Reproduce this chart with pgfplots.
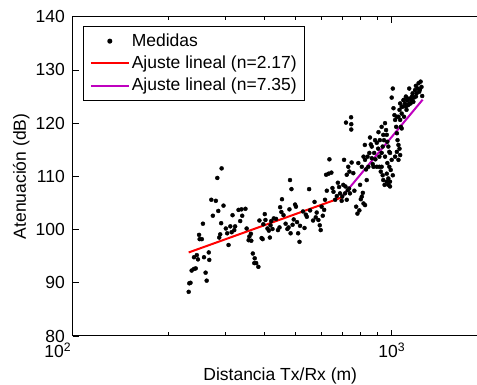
\documentclass[border=0pt]{standalone}
\usepackage{fontspec}
\setmainfont{Liberation Sans}
\usepackage{pgfplots}
\pgfplotsset{compat=1.18}
\definecolor{mymag}{rgb}{0.75,0,0.75}
\pgfplotsset{
  legline/.style={legend image code/.code={\draw[##1] (0pt,0pt) -- (38pt,0pt);}},
  legdot/.style={legend image code/.code={\draw[##1] plot coordinates {(19pt,0pt)};}},
}
\pgfplotstableread{
x y
231 88.3
232 89.9
234 90.0
236 92.3
240 92.6
243 92.7
240 94.8
245 95.2
247 94.4
249 99.0
250 98.2
254 98.2
256 101.1
258 94.8
261 91.9
263 90.4
268 94.3
267 95.7
272 105.6
281 105.4
275 102.6
284 109.7
293 111.5
286 103.5
288 98.5
290 99.1
292 101.2
297 104.5
302 100.2
305 99.3
308 97.1
312 100.6
315 99.5
317 102.7
321 99.9
323 100.6
331 103.7
335 101.6
338 103.8
340 102.6
348 103.9
351 100.2
358 98.7
362 99.2
356 98.0
363 97.9
367 95.5
372 94.6
371 93.7
376 93.7
382 93.0
385 101.7
396 101.0
400 102.9
402 101.8
394 98.2
391 98.4
408 100.2
412 99.8
415 98.5
417 100.8
419 101.6
423 100.1
427 102.1
434 102.0
440 99.9
445 100.4
447 104.2
451 103.3
453 105.7
458 102.7
465 101.1
471 100.1
475 100.4
480 109.3
485 107.6
478 103.8
482 99.3
489 100.9
493 101.9
498 104.7
501 104.3
505 101.4
509 99.3
514 97.7
516 100.7
527 103.4
533 100.3
538 102.8
542 102.4
551 107.6
555 103.6
567 101.7
573 105.2
578 102.3
582 103.2
589 101.8
595 100.8
599 99.9
603 104.3
608 102.6
614 103.7
618 105.6
626 107.3
623 110.3
634 110.5
638 113.2
647 110.7
652 107.8
657 107.1
665 105.6
673 106.3
678 108.8
684 108.0
689 106.8
697 105.4
700 106.2
719 120.1
746 121.1
747 119.8
747 118.8
709 113.1
731 111.8
737 110.9
749 112.6
758 110.6
723 110.3
716 108.1
728 107.4
740 106.8
714 106.8
764 107.3
774 104.3
781 103.0
792 103.6
800 105.7
806 106.2
816 104.9
825 104.6
812 106.9
796 108.4
816 113.7
824 115.9
831 111.3
835 109.3
845 111.8
855 117.3
860 116.0
866 113.4
872 112.3
881 114.4
889 113.2
898 111.8
907 115.2
915 113.7
924 110.9
930 111.8
937 110.2
941 109.3
950 108.4
965 110.5
976 109.6
983 111.8
988 109.0
993 111.2
1000 113.1
1008 110.2
953 120.0
960 118.7
965 117.8
969 116.5
976 115.6
983 114.6
946 116.8
937 115.6
930 114.4
918 116.8
941 117.8
1008 126.5
1000 124.8
1013 122.8
1020 121.5
1025 120.6
1033 119.3
1038 118.1
1043 116.8
1050 115.9
1058 115.2
1063 114.0
1050 113.1
1038 114.6
1025 113.7
1068 119.3
1075 121.8
1083 123.1
1088 124.3
1093 121.2
1100 123.7
1108 125.0
1113 122.5
1119 124.3
1127 123.4
1135 126.5
1140 124.6
1146 123.7
1155 124.3
1163 125.6
1169 124.0
1183 126.2
1191 127.0
1197 125.6
1206 126.5
1214 127.5
1226 126.3
1232 127.8
1240 126.8
1246 125.1
1220 125.9
1063 123.7
1075 123.1
1093 124.4
1108 123.1
1124 124.6
1135 123.7
1158 125.0
1174 124.8
1191 125.0
1050 121.2
1063 120.6
1075 119.0
1038 121.2
1058 122.5
866 115.6
887 116.8
909 118.3
930 119.3
898 116.3
877 111.8
851 114.4
840 113.7
915 111.8
953 113.7
969 112.5
988 114.4
806 111.8
786 112.5
825 113.1
705 108.4
723 105.6
735 107.7
976 108.4
988 108.1
965 109.0
}\medidas
\pgfplotstableread{
x y
231 95.7
695 106.0
}\ajusteA
\pgfplotstableread{
x y
695 106.0
1250 124.4
}\ajusteB
\begin{document}
\fontsize{17.5}{21}\selectfont
\begin{tikzpicture}
\begin{axis}[
  at={(0pt,0pt)}, anchor=south west,
  scale only axis, width=415pt, height=319.3pt,
  xmode=log, xmin=100, xmax=2000, ymin=80, ymax=140,
  xtick={100,1000}, xticklabels={\hspace*{-30pt}10\textsuperscript{2},10\textsuperscript{3}},
  minor xtick={200,300,400,500,600,700,800,900,2000},
  ytick={80,90,...,140},
  tick align=inside, major tick length=6pt, minor tick length=3.5pt,
  axis line style={line width=1pt},
  every tick/.style={line width=0.8pt, black},
  /pgf/number format/assume math mode=true,
  tick label style={font=\fontsize{17.5}{21}\selectfont},
  yticklabel style={inner sep=0pt, xshift=-7.7pt},
  xticklabel style={inner sep=0pt, yshift=-6.7pt},
  label style={font=\fontsize{17.5}{21}\selectfont},
  xlabel style={yshift=-4pt},
  xlabel={Distancia Tx/Rx (m)}, ylabel={Atenuación (dB)},
  legend cell align=left,
  legend style={at={(0,1)}, anchor=north west, xshift=10.6pt, yshift=-9.3pt,
    draw=black, line width=1pt, font=\fontsize{17.5}{21}\selectfont,
    inner xsep=6pt, inner ysep=4pt, row sep=1pt,
    nodes={inner xsep=2pt, inner ysep=3pt}},
]
\addplot[only marks, mark=*, mark size=2pt, black, legdot] table {\medidas};
\addlegendentry{Medidas}
\addplot[red, line width=2pt, no marks, legline] table {\ajusteA};
\addlegendentry{Ajuste lineal (n=2.17)}
\addplot[mymag, line width=2pt, no marks, legline] table {\ajusteB};
\addlegendentry{Ajuste lineal (n=7.35)}
\end{axis}
\pgfresetboundingbox
\useasboundingbox (-72.7pt,-49pt) rectangle (404.3pt,336pt);
\end{tikzpicture}
\end{document}
